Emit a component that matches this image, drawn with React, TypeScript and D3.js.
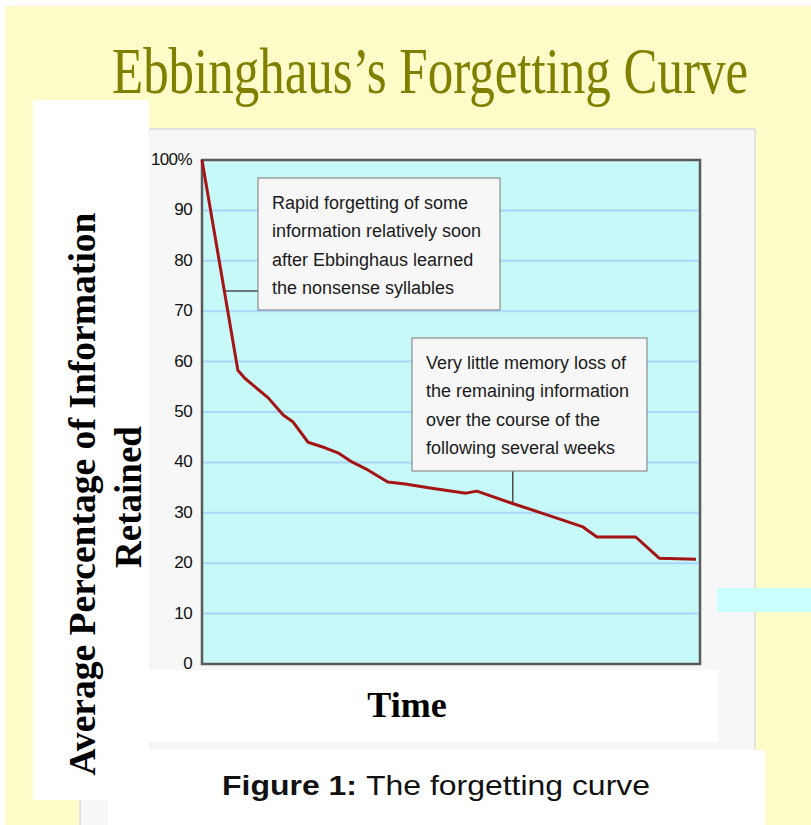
import React, { useEffect, useRef } from "react";
import * as d3 from "d3";

// time is unitless (0 = learning, 100 = end of the observed weeks)
const times = [
  0, 7.2, 8.6, 13.3, 16.3, 18.3, 21.3, 24.7, 27.3, 30.1, 33.3, 37.3, 40.8,
  45.8, 53.0, 55.2, 62.2, 69.3, 76.5, 79.3, 87.1, 91.8, 99.2,
];
const retained = [
  100, 58.3, 56.7, 52.8, 49.4, 48.0, 44.0, 42.9, 41.9, 40.1, 38.5, 36.1, 35.7,
  34.9, 33.9, 34.3, 31.9, 29.6, 27.2, 25.2, 25.2, 21.0, 20.8,
];
const yTicks = [0, 10, 20, 30, 40, 50, 60, 70, 80, 90, 100];

const title = "Ebbinghaus\u2019s Forgetting Curve";
const yLabelLines = ["Average Percentage of Information", "Retained"];
const xLabel = "Time";
const captionBold = "Figure 1:";
const captionText = "The forgetting curve";
const note1 = [
  "Rapid forgetting of some",
  "information relatively soon",
  "after Ebbinghaus learned",
  "the nonsense syllables",
];
const note2 = [
  "Very little memory loss of",
  "the remaining information",
  "over the course of the",
  "following several weeks",
];

const W = 811;
const H = 825;

const App = () => {
  const ref = useRef<SVGSVGElement>(null);

  useEffect(() => {
    const svg = d3.select(ref.current);
    svg.selectAll("*").remove();

    const points = times.map((t, i) => ({ t, v: retained[i] }));

    const x = d3.scaleLinear().domain([0, 100]).range([202, 700]);
    const y = d3.scaleLinear().domain([0, 100]).range([664, 160]);

    // value of the curve at time t
    const valueAt = (t: number) => {
      for (let i = 1; i < points.length; i++) {
        const a = points[i - 1];
        const b = points[i];
        if (t <= b.t) return a.v + ((t - a.t) / (b.t - a.t)) * (b.v - a.v);
      }
      return points[points.length - 1].v;
    };
    // first time the curve falls to value v
    const timeAt = (v: number) => {
      for (let i = 1; i < points.length; i++) {
        const a = points[i - 1];
        const b = points[i];
        if (v >= b.v) return a.t + ((a.v - v) / (a.v - b.v)) * (b.t - a.t);
      }
      return points[points.length - 1].t;
    };

    // page background
    svg.append("rect").attr("width", W).attr("height", H).attr("fill", "#ffffff");
    svg
      .append("rect")
      .attr("x", 5)
      .attr("y", 6)
      .attr("width", W - 5)
      .attr("height", H - 6)
      .attr("fill", "#fefcc8");

    svg
      .append("text")
      .attr("x", 112)
      .attr("y", 93)
      .attr("font-family", "Liberation Serif, serif")
      .attr("font-size", 66)
      .attr("fill", "#808000")
      .attr("textLength", 636)
      .attr("lengthAdjust", "spacingAndGlyphs")
      .text(title);

    // grey chart panel
    svg
      .append("rect")
      .attr("x", 80)
      .attr("y", 129)
      .attr("width", 675)
      .attr("height", 710)
      .attr("fill", "#f7f7f7")
      .attr("stroke", "#dadada")
      .attr("stroke-width", 1.5);

    // white box behind the y label
    svg
      .append("rect")
      .attr("x", 33)
      .attr("y", 100)
      .attr("width", 116)
      .attr("height", 700)
      .attr("fill", "#ffffff");

    const yl = svg
      .append("g")
      .attr("font-family", "Liberation Serif, serif")
      .attr("font-weight", "bold")
      .attr("font-size", 37)
      .attr("fill", "#000")
      .attr("text-anchor", "middle");
    yl.append("text")
      .attr("transform", "translate(95,494) rotate(-90)")
      .attr("textLength", 563)
      .attr("lengthAdjust", "spacingAndGlyphs")
      .text(yLabelLines[0]);
    yl.append("text")
      .attr("transform", "translate(141,497) rotate(-90)")
      .text(yLabelLines[1]);

    // plot area
    svg
      .append("rect")
      .attr("x", x(0))
      .attr("y", y(100))
      .attr("width", x(100) - x(0))
      .attr("height", y(0) - y(100))
      .attr("fill", "#c8f9f9");

    svg
      .append("g")
      .selectAll("line")
      .data(yTicks.filter((d) => d > 0 && d < 100))
      .enter()
      .append("line")
      .attr("x1", x(0))
      .attr("x2", x(100))
      .attr("y1", (d) => y(d))
      .attr("y2", (d) => y(d))
      .attr("stroke", "#a9d6fb")
      .attr("stroke-width", 2);

    const axis = svg
      .append("g")
      .attr("transform", `translate(${x(0) - 1},-1)`)
      .call(
        d3
          .axisLeft(y)
          .tickValues(yTicks)
          .tickSize(0)
          .tickPadding(9)
          .tickFormat((d) => (d === 100 ? "100%" : String(d)))
      );
    axis.select(".domain").remove();
    axis
      .selectAll("text")
      .attr("font-family", "Liberation Sans, Arial, sans-serif")
      .attr("font-size", 17)
      .attr("letter-spacing", -0.6)
      .attr("fill", "#111");

    // frame
    svg
      .append("rect")
      .attr("x", x(0))
      .attr("y", y(100))
      .attr("width", x(100) - x(0))
      .attr("height", y(0) - y(100))
      .attr("fill", "none")
      .attr("stroke", "#5a5a5a")
      .attr("stroke-width", 2.5);

    // annotations
    const drawNote = (lines: string[], bx: number, by: number, bw: number, bh: number) => {
      svg
        .append("rect")
        .attr("x", bx)
        .attr("y", by)
        .attr("width", bw)
        .attr("height", bh)
        .attr("fill", "#f7f7f7")
        .attr("stroke", "#8c8c8c")
        .attr("stroke-width", 1.2);
      svg
        .append("g")
        .attr("font-family", "Liberation Sans, Arial, sans-serif")
        .attr("font-size", 18)
        .attr("fill", "#1a1a1a")
        .selectAll("text")
        .data(lines)
        .enter()
        .append("text")
        .attr("x", bx + 14)
        .attr("y", (d, i) => by + 31 + i * 28.4)
        .text((d) => d);
    };

    const c1v = 74;
    svg
      .append("line")
      .attr("x1", x(timeAt(c1v)))
      .attr("x2", 258)
      .attr("y1", y(c1v))
      .attr("y2", y(c1v))
      .attr("stroke", "#4d4d4d")
      .attr("stroke-width", 1.5);
    const c2t = 62.4;
    svg
      .append("line")
      .attr("x1", x(c2t))
      .attr("x2", x(c2t))
      .attr("y1", 471)
      .attr("y2", y(valueAt(c2t)))
      .attr("stroke", "#4d4d4d")
      .attr("stroke-width", 1.5);

    drawNote(note1, 258, 178, 242, 132);
    drawNote(note2, 412, 338, 235, 133);

    const line = d3
      .line<{ t: number; v: number }>()
      .x((d) => x(d.t))
      .y((d) => y(d.v));

    svg
      .append("path")
      .datum(points)
      .attr("d", line)
      .attr("fill", "none")
      .attr("stroke", "#a51414")
      .attr("stroke-width", 3)
      .attr("stroke-linejoin", "round");

    // "Time" box
    svg
      .append("rect")
      .attr("x", 149)
      .attr("y", 670)
      .attr("width", 569)
      .attr("height", 72)
      .attr("fill", "#ffffff");
    svg
      .append("text")
      .attr("x", 407)
      .attr("y", 717)
      .attr("text-anchor", "middle")
      .attr("font-family", "Liberation Serif, serif")
      .attr("font-weight", "bold")
      .attr("font-size", 36)
      .text(xLabel);

    // caption box
    svg
      .append("rect")
      .attr("x", 108)
      .attr("y", 750)
      .attr("width", 657)
      .attr("height", 80)
      .attr("fill", "#ffffff");
    const cap = svg
      .append("g")
      .attr("font-family", "Liberation Sans, Arial, sans-serif")
      .attr("font-size", 28)
      .attr("fill", "#111");
    cap
      .append("text")
      .attr("x", 222)
      .attr("y", 795)
      .attr("font-weight", "bold")
      .attr("textLength", 135)
      .attr("lengthAdjust", "spacingAndGlyphs")
      .text(captionBold);
    cap
      .append("text")
      .attr("x", 366)
      .attr("y", 795)
      .attr("textLength", 284)
      .attr("lengthAdjust", "spacingAndGlyphs")
      .text(captionText);

    // stray cyan strip on the right
    svg
      .append("rect")
      .attr("x", 717)
      .attr("y", 588)
      .attr("width", 94)
      .attr("height", 24)
      .attr("fill", "#ccffff");
  }, []);

  return (
    <svg
      ref={ref}
      width={W}
      height={H}
      style={{ position: "absolute", left: 0, top: 0, display: "block" }}
    />
  );
};

export default App;
